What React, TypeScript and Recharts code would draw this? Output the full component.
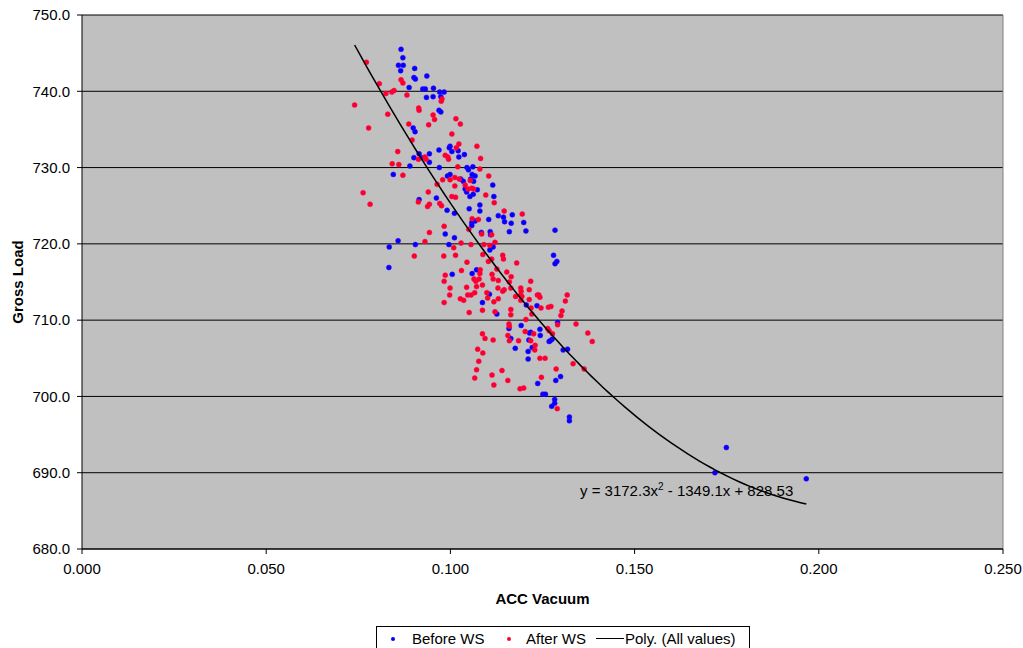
import React from "react";
import { ScatterChart, Scatter, XAxis, YAxis, CartesianGrid, ReferenceLine, Label } from "recharts";

const xTicks = [0, 0.05, 0.1, 0.15, 0.2, 0.25];
const yTicks = [680, 690, 700, 710, 720, 730, 740, 750];

// trendline shown on the chart: y = 3172.3x^2 - 1349.1x + 828.53
const polyA = 3172.3;
const polyB = -1349.1;
const polyC = 828.53;

// [ACC Vacuum, Gross Load]
const beforeWS: [number, number][] = [
  [0.0866, 745.5], [0.0871, 744.4], [0.0859, 743.4], [0.0872, 743.4], [0.0865, 742.7], [0.0903, 743.0], [0.0936, 742.0], [0.0901, 741.8], [0.0905, 741.6], [0.0888, 740.5],
  [0.0925, 740.3], [0.0932, 740.3], [0.0954, 740.4], [0.0971, 739.9], [0.0983, 739.9], [0.0974, 739.3], [0.0953, 739.3], [0.0935, 739.2], [0.0969, 737.5], [0.0974, 737.3],
  [0.0899, 735.2], [0.0904, 734.7], [0.0969, 732.3], [0.0999, 732.8], [0.0997, 732.6], [0.1021, 732.2], [0.1038, 731.7], [0.1004, 732.1], [0.1023, 731.4], [0.0943, 731.8],
  [0.0915, 731.8], [0.0901, 731.3], [0.0922, 731.3], [0.0943, 730.7], [0.089, 730.2], [0.097, 730.0], [0.1045, 730.0], [0.1061, 730.1], [0.1049, 729.7], [0.0845, 729.1],
  [0.0992, 728.9], [0.0999, 729.1], [0.1028, 728.5], [0.1035, 728.2], [0.1059, 729.1], [0.1067, 728.9], [0.1055, 728.5], [0.1063, 728.2], [0.104, 727.2], [0.1044, 726.8],
  [0.1073, 727.1], [0.1062, 726.5], [0.1053, 726.2], [0.1115, 727.7], [0.1118, 726.2], [0.0915, 725.8], [0.0962, 726.0], [0.108, 725.1], [0.1051, 724.6], [0.108, 724.3],
  [0.0991, 724.4], [0.1011, 724.0], [0.113, 723.7], [0.1144, 723.5], [0.1168, 723.8], [0.1147, 722.9], [0.1165, 722.7], [0.1104, 723.2], [0.1067, 723.0], [0.1058, 722.8],
  [0.1058, 722.4], [0.1084, 721.5], [0.1108, 721.6], [0.1109, 721.2], [0.116, 721.6], [0.0986, 721.3], [0.1011, 720.8], [0.0858, 720.4], [0.0834, 719.6], [0.0905, 719.9],
  [0.0996, 719.9], [0.1107, 719.2], [0.1116, 719.6], [0.0833, 716.9], [0.1071, 716.6], [0.1005, 716.0], [0.1059, 716.1], [0.1199, 722.8], [0.1205, 721.7], [0.1284, 721.8],
  [0.128, 718.5], [0.1289, 717.7], [0.1284, 717.4], [0.1106, 713.4], [0.1087, 712.3], [0.1126, 710.8], [0.1159, 708.9], [0.1164, 707.6], [0.1176, 706.3], [0.1206, 712.0],
  [0.1235, 711.9], [0.1291, 709.7], [0.1243, 708.8], [0.1244, 708.0], [0.1218, 708.4], [0.1215, 708.3], [0.1192, 709.3], [0.1213, 707.4], [0.1222, 706.4], [0.1211, 705.9],
  [0.1211, 704.9], [0.1268, 707.2], [0.1276, 707.5], [0.1271, 707.3], [0.1306, 706.1], [0.1318, 706.2], [0.1299, 702.6], [0.1286, 702.1], [0.1237, 701.7], [0.1251, 700.3],
  [0.1258, 700.3], [0.1283, 699.6], [0.1283, 699.1], [0.1275, 698.7], [0.1323, 697.3], [0.1323, 696.8], [0.1749, 693.3], [0.1718, 690.0], [0.1966, 689.2],
];

const afterWS: [number, number][] = [
  [0.0772, 743.8], [0.0807, 741.0], [0.0825, 739.7], [0.0841, 739.9], [0.0847, 740.1], [0.0866, 741.5], [0.0871, 741.1], [0.0882, 739.5], [0.0977, 739.0], [0.0975, 738.7],
  [0.074, 738.2], [0.0914, 737.8], [0.0915, 737.5], [0.083, 737.0], [0.0953, 736.9], [0.0957, 736.3], [0.1015, 736.4], [0.1027, 735.7], [0.0778, 735.2], [0.0941, 735.6],
  [0.0887, 735.7], [0.1004, 734.4], [0.0896, 733.6], [0.1023, 733.1], [0.1016, 732.6], [0.1072, 732.8], [0.0857, 732.1], [0.0986, 731.6], [0.0993, 731.4], [0.0995, 731.1],
  [0.1082, 731.2], [0.0913, 731.1], [0.0934, 731.1], [0.0931, 731.4], [0.0842, 730.5], [0.086, 730.4], [0.102, 730.1], [0.108, 729.8], [0.0871, 729.0], [0.1012, 728.7],
  [0.1104, 728.9], [0.0979, 728.4], [0.0999, 728.4], [0.1024, 728.5], [0.1054, 728.3], [0.1012, 727.6], [0.104, 727.7], [0.0964, 727.8], [0.1048, 727.2], [0.1058, 727.3],
  [0.1063, 727.2], [0.0763, 726.7], [0.094, 726.8], [0.1004, 726.2], [0.1014, 726.1], [0.1096, 726.4], [0.0913, 725.5], [0.0943, 725.2], [0.0938, 724.9], [0.0971, 725.3],
  [0.0976, 725.0], [0.0782, 725.2], [0.1119, 725.4], [0.1146, 724.3], [0.1059, 723.3], [0.1076, 723.2], [0.105, 721.9], [0.0983, 722.3], [0.0943, 721.5], [0.1085, 721.3],
  [0.1112, 721.2], [0.0931, 720.3], [0.1029, 720.1], [0.1056, 719.9], [0.1091, 719.9], [0.1107, 719.8], [0.1121, 720.2], [0.1009, 719.5], [0.1088, 718.6], [0.0902, 718.4],
  [0.0982, 718.4], [0.1014, 718.5], [0.1112, 718.0], [0.1103, 717.7], [0.1142, 718.5], [0.1144, 718.0], [0.118, 717.5], [0.1045, 717.6], [0.103, 716.5], [0.1126, 716.7],
  [0.1153, 716.3], [0.0986, 715.9], [0.1081, 716.6], [0.108, 716.1], [0.1064, 715.4], [0.1069, 715.1], [0.1078, 715.4], [0.1113, 716.0], [0.1116, 715.4], [0.1165, 715.7],
  [0.113, 715.2], [0.1087, 714.6], [0.1071, 714.4], [0.1044, 714.3], [0.0999, 714.2], [0.0983, 715.1], [0.1129, 714.2], [0.1146, 714.0], [0.1164, 714.2], [0.116, 715.0],
  [0.0998, 713.3], [0.0983, 712.3], [0.1027, 712.8], [0.1036, 712.6], [0.1047, 713.3], [0.1056, 713.3], [0.1066, 713.6], [0.1099, 713.6], [0.1101, 712.9], [0.1118, 712.4],
  [0.113, 712.8], [0.1142, 713.8], [0.1177, 713.1], [0.1051, 711.0], [0.1087, 711.3], [0.1121, 711.1], [0.1164, 711.4], [0.1164, 710.7], [0.1159, 709.5], [0.116, 709.2],
  [0.1156, 708.0], [0.116, 707.3], [0.1185, 707.3], [0.1087, 708.2], [0.1094, 707.6], [0.1116, 707.4], [0.1074, 706.2], [0.1088, 705.7], [0.1077, 704.6], [0.1071, 703.5],
  [0.1066, 702.4], [0.1113, 702.8], [0.114, 703.4], [0.1118, 701.5], [0.1156, 702.1], [0.1189, 701.0], [0.1199, 701.1], [0.1195, 723.9], [0.1218, 715.1], [0.1191, 714.2],
  [0.1214, 714.0], [0.1192, 713.8], [0.1191, 713.3], [0.1194, 713.1], [0.1191, 712.6], [0.1214, 712.7], [0.1236, 713.3], [0.124, 713.3], [0.1243, 713.0], [0.1246, 711.6],
  [0.1266, 711.7], [0.1273, 711.8], [0.1317, 713.3], [0.1312, 712.5], [0.1303, 711.2], [0.13, 710.6], [0.1205, 710.1], [0.1219, 711.6], [0.1221, 710.8], [0.1291, 709.4],
  [0.1341, 709.5], [0.1373, 708.3], [0.1385, 707.2], [0.1264, 708.9], [0.1268, 708.6], [0.1277, 708.2], [0.1226, 708.2], [0.1203, 708.5], [0.1218, 707.3], [0.1229, 706.1],
  [0.123, 706.7], [0.1243, 705.0], [0.1257, 705.0], [0.1333, 704.3], [0.1363, 703.6], [0.1247, 702.5], [0.129, 698.4], [0.1287, 703.6],
];

const toPoints = (rows: [number, number][]) => rows.map(([x, y]) => ({ x, y }));

// poly trendline over the x range of all values
const allX = [...beforeWS, ...afterWS].map((r) => r[0]);
const xMin = Math.min(...allX);
const xMax = Math.max(...allX);
const polyLine: { x: number; y: number }[] = [];
for (let i = 0; i <= 80; i++) {
  const x = xMin + ((xMax - xMin) * i) / 80;
  polyLine.push({ x, y: polyA * x * x + polyB * x + polyC });
}

const BlueDot = (p: any) => <circle cx={p.cx} cy={p.cy} r={2.5} fill="#0000ff" stroke="#3a00ff" strokeWidth={0.5} />;
const RedDot = (p: any) => <circle cx={p.cx} cy={p.cy} r={2.5} fill="#ff0022" stroke="#ff0066" strokeWidth={0.5} />;
const NoDot = () => <g />;

const font = "'Liberation Sans', Arial, sans-serif";

export default function App() {
  return (
    <div style={{ position: "fixed", left: 0, top: 0, width: 1023, height: 648, overflow: "hidden", background: "#fff", fontFamily: font }}>
      <ScatterChart width={1023} height={648} margin={{ top: 15, right: 20, left: 0, bottom: 0 }}>
        <CartesianGrid vertical={false} stroke="#000" fill="#c0c0c0" fillOpacity={1} />
        <XAxis
          dataKey="x"
          type="number"
          domain={[0, 0.25]}
          ticks={xTicks}
          interval={0}
          allowDataOverflow
          tickFormatter={(v: number) => v.toFixed(3)}
          height={99}
          tickSize={5}
          tickMargin={9}
          stroke="#000"
          tick={{ fill: "#000", fontSize: 15 }}
        >
          <Label value="ACC Vacuum" position="insideTop" offset={44} style={{ fontWeight: "bold", fontSize: 15, fill: "#000" }} />
        </XAxis>
        <YAxis
          dataKey="y"
          type="number"
          domain={[680, 750]}
          ticks={yTicks}
          interval={0}
          allowDataOverflow
          tickFormatter={(v: number) => v.toFixed(1)}
          width={82}
          tickSize={5}
          tickMargin={7}
          stroke="#000"
          tick={{ fill: "#000", fontSize: 15 }}
        >
          <Label
            content={() => (
              <text x={23} y={282} transform="rotate(-90 23 282)" textAnchor="middle" fontWeight="bold" fontSize={15} fill="#000">
                Gross Load
              </text>
            )}
          />
        </YAxis>
        <ReferenceLine x={0.25} stroke="#808080" />
        <Scatter name="Before WS" data={toPoints(beforeWS)} shape={BlueDot} isAnimationActive={false} />
        <Scatter name="After WS" data={toPoints(afterWS)} shape={RedDot} isAnimationActive={false} />
        <Scatter
          name="Poly. (All values)"
          data={polyLine}
          line={{ stroke: "#000", strokeWidth: 1.5 }}
          lineType="joint"
          shape={NoDot}
          isAnimationActive={false}
        />
      </ScatterChart>

      <div style={{ position: "absolute", left: 580, top: 482, fontSize: 15, lineHeight: "17px", color: "#000", whiteSpace: "nowrap" }}>
        y = 3172.3x<span style={{ fontSize: 10, position: "relative", top: -6 }}>2</span> - 1349.1x + 828.53
      </div>

      <div style={{ position: "absolute", left: 376, top: 626, width: 372, height: 30, border: "1px solid #000", background: "#fff" }} />
      <div style={{ position: "absolute", left: 391, top: 637, width: 4, height: 4, borderRadius: 2, background: "#0000ff" }} />
      <div style={{ position: "absolute", left: 412, top: 630, fontSize: 15, lineHeight: "17px" }}>Before WS</div>
      <div style={{ position: "absolute", left: 507, top: 637, width: 4, height: 4, borderRadius: 2, background: "#ff0022" }} />
      <div style={{ position: "absolute", left: 526, top: 630, fontSize: 15, lineHeight: "17px" }}>After WS</div>
      <div style={{ position: "absolute", left: 596, top: 638, width: 28, height: 1, background: "#000" }} />
      <div style={{ position: "absolute", left: 625, top: 630, fontSize: 15, lineHeight: "17px" }}>Poly. (All values)</div>
    </div>
  );
}
